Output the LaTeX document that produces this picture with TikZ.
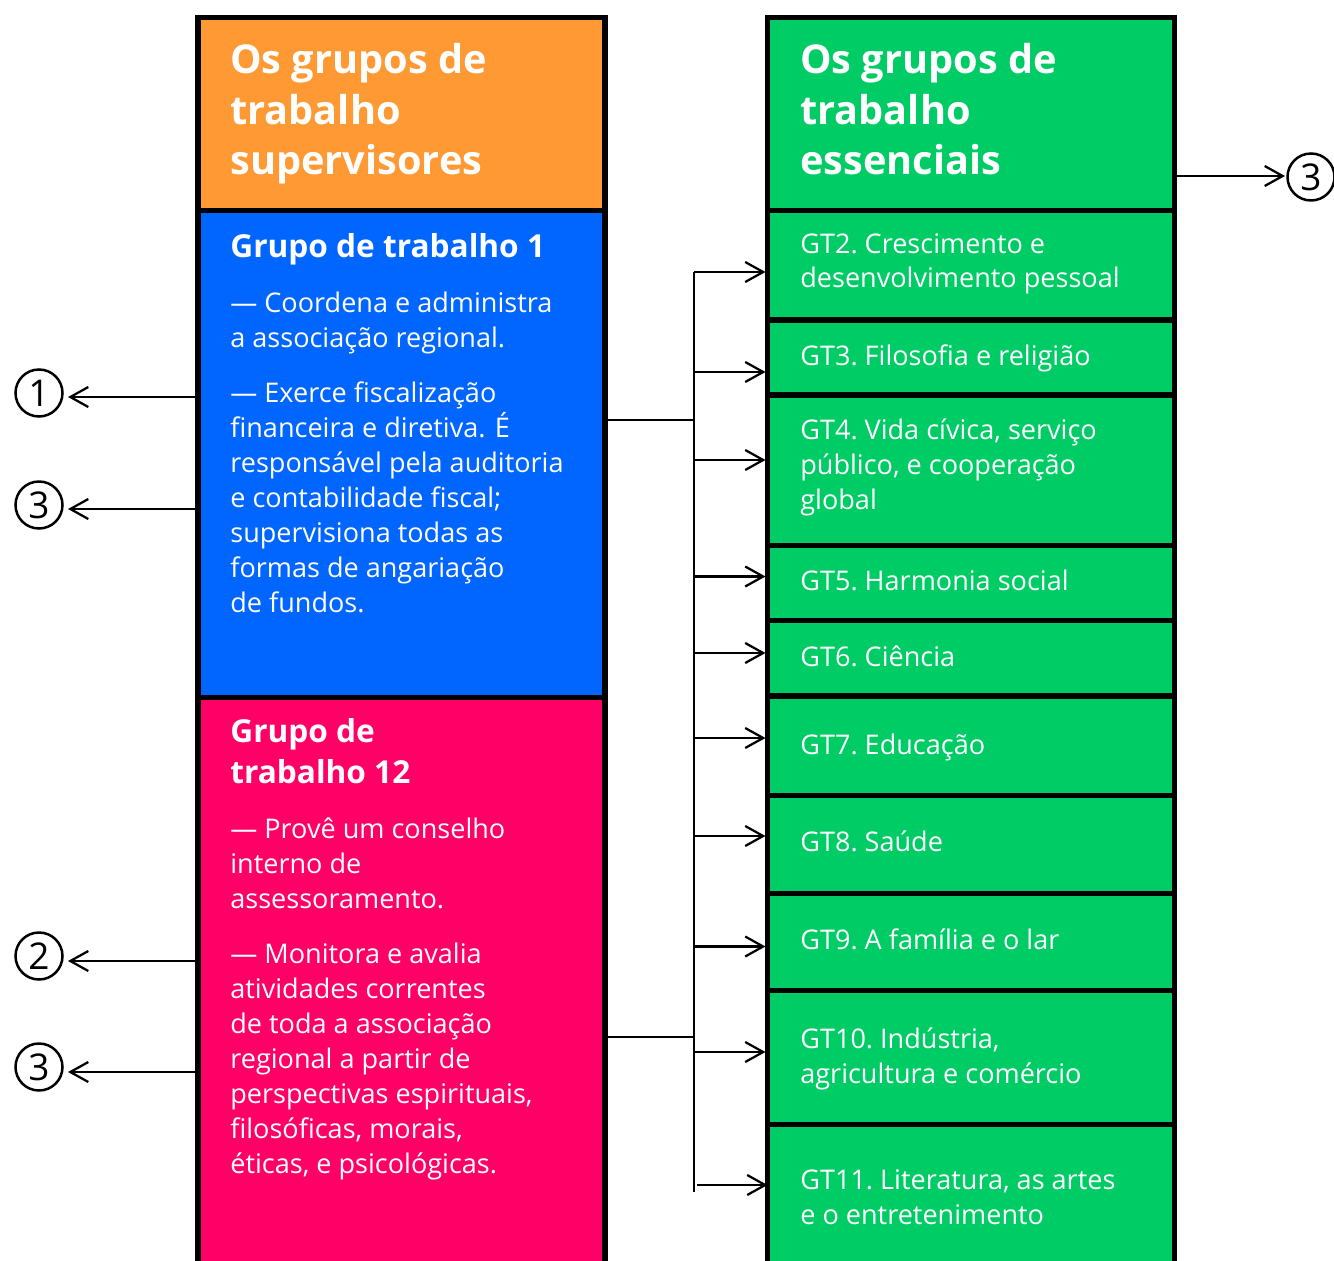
\documentclass[tikz,border=0pt]{standalone}
\usepackage{fontspec}
\setmainfont{Open Sans}
\usepackage{xcolor}
\usepackage{tikz}
\usetikzlibrary{arrows.meta,fit}

\definecolor{laranja}{HTML}{FF9933}
\definecolor{azul}{HTML}{0066FF}
\definecolor{rosa}{HTML}{FF0066}
\definecolor{verde}{HTML}{00CC66}

\begin{document}
\begin{tikzpicture}[x=0.02cm, y=-0.02cm,
    caixa/.style={draw=black, line width=0.11cm, inner sep=0pt, outer sep=0pt},
    titulo/.style={anchor=base west, align=left, text=white, inner sep=0pt, font=\fontsize{22.6}{29}\selectfont\bfseries},
    grupo/.style={anchor=base west, align=left, text=white, inner sep=0pt, font=\fontsize{18}{22.8}\selectfont\bfseries},
    texto/.style={anchor=base west, align=left, text=white, inner sep=0pt, font=\fontsize{15.4}{19.9}\selectfont},
    linha/.style={line width=0.045cm},
    seta/.style={-{Straight Barb[length=0.36cm, width=0.4cm]}, line width=0.045cm},
    num/.style={circle, draw, line width=0.05cm, minimum size=0.94cm, inner sep=0pt, font=\fontsize{21}{21}\selectfont}]
    \clip (0,0) rectangle (1334,1260);

    % Coluna esquerda
    \node[caixa, fill=laranja, fit={(198,17.5) (605,210.5)}] (sup) {};
    \node[caixa, fill=azul, fit={(198,210.5) (605,697.5)}] (gt1) {};
    \node[caixa, fill=rosa, fit={(198,697.5) (605,1300)}] (gt12) {};

    % Coluna direita
    \node[caixa, fill=verde, fit={(767.5,17.5) (1174.5,210.5)}] (ess) {};
    \node[caixa, fill=verde, fit={(767.5,210.5) (1174.5,320)}] (gt2) {};
    \node[caixa, fill=verde, fit={(767.5,320) (1174.5,395)}] (gt3) {};
    \node[caixa, fill=verde, fit={(767.5,395) (1174.5,545.5)}] (gt4) {};
    \node[caixa, fill=verde, fit={(767.5,545.5) (1174.5,620.5)}] (gt5) {};
    \node[caixa, fill=verde, fit={(767.5,620.5) (1174.5,696)}] (gt6) {};
    \node[caixa, fill=verde, fit={(767.5,696) (1174.5,795.5)}] (gt7) {};
    \node[caixa, fill=verde, fit={(767.5,795.5) (1174.5,893.5)}] (gt8) {};
    \node[caixa, fill=verde, fit={(767.5,893.5) (1174.5,990.5)}] (gt9) {};
    \node[caixa, fill=verde, fit={(767.5,990.5) (1174.5,1124.5)}] (gt10) {};
    \node[caixa, fill=verde, fit={(767.5,1124.5) (1174.5,1300)}] (gt11) {};

    % Textos (base = ultima linha)
    \node[titulo] (tsup) at (230,175) {Os grupos de\\trabalho\\supervisores};
    \node[titulo] (tess) at (800,175) {Os grupos de\\trabalho\\essenciais};

    \node[grupo] (tgt1) at (230,258) {Grupo de trabalho 1};
    \node[texto] (bgt1) at (230,612) {— Coordena e administra\\a associação regional.\\[0.4cm]— Exerce fiscalização\\financeira e diretiva. É\\responsável pela auditoria\\e contabilidade fiscal;\\supervisiona todas as\\formas de angariação\\de fundos.};

    \node[grupo] (tgt12) at (230,783) {Grupo de\\trabalho 12};
    \node[texto] (bgt12) at (230,1173) {— Provê um conselho\\interno de\\assessoramento.\\[0.4cm]— Monitora e avalia\\atividades correntes\\de toda a associação\\regional a partir de\\perspectivas espirituais,\\filosóficas, morais,\\éticas, e psicológicas.};

    \node[texto] (tgt2) at (800,288) {GT2.\ Crescimento e\\desenvolvimento pessoal};
    \node[texto] (tgt3) at (800,365) {GT3.\ Filosofia e religião};
    \node[texto] (tgt4) at (800,509) {GT4.\ Vida cívica, serviço\\público, e cooperação\\global};
    \node[texto] (tgt5) at (800,590) {GT5.\ Harmonia social};
    \node[texto] (tgt6) at (800,666) {GT6.\ Ciência};
    \node[texto] (tgt7) at (800,754) {GT7.\ Educação};
    \node[texto] (tgt8) at (800,851) {GT8.\ Saúde};
    \node[texto] (tgt9) at (800,949) {GT9.\ A família e o lar};
    \node[texto] (tgt10) at (800,1083) {GT10.\ Indústria,\\agricultura e comércio};
    \node[texto] (tgt11) at (800,1224) {GT11.\ Literatura, as artes\\e o entretenimento};

    % Tronco de ligacao
    \coordinate (top) at (694,272);
    \coordinate (bot) at (694,1192);
    \coordinate (b1) at (694,420);
    \coordinate (b2) at (694,1037);
    \draw[linha] (top) -- (bot);
    \draw[linha] (gt1.east |- b1) -- (b1);
    \draw[linha] (gt12.east |- b2) -- (b2);

    \foreach \n/\y in {gt2/272, gt3/372, gt4/460, gt5/576.5, gt6/653, gt7/738, gt8/836, gt9/946.5, gt10/1052} {
        \coordinate (r\n) at (694,\y);
        \draw[seta, shorten >=0.04cm] (r\n) -- (\n.west |- r\n);
    }
    \coordinate (rgt11) at (697,1185);
    \draw[seta] (rgt11) -- (gt11.west |- rgt11);

    % Numeros
    \node[num] (c1) at (39,393) {1};
    \node[num] (c3a) at (39,505) {3};
    \node[num] (c2) at (39,956) {2};
    \node[num] (c3b) at (39,1067) {3};
    \node[num] (c3c) at (1311,177) {3};

    \coordinate (p1) at (68,397);
    \coordinate (p2) at (68,509);
    \coordinate (p3) at (68,961);
    \coordinate (p4) at (68,1072);
    \coordinate (p5) at (1285,176);
    \draw[seta] (gt1.west |- p1) -- (p1);
    \draw[seta] (gt1.west |- p2) -- (p2);
    \draw[seta] (gt12.west |- p3) -- (p3);
    \draw[seta] (gt12.west |- p4) -- (p4);
    \draw[seta] (ess.east |- p5) -- (p5);
\end{tikzpicture}
\end{document}
